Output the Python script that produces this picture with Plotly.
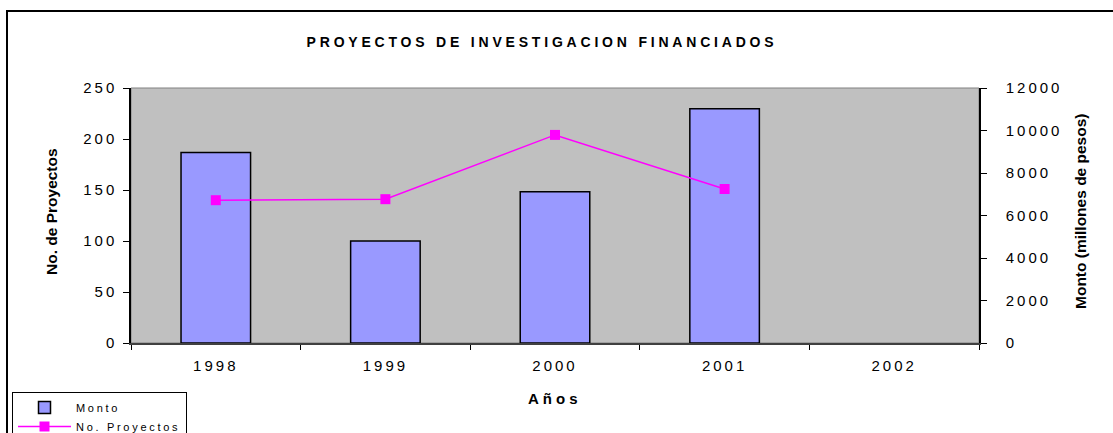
import plotly.graph_objects as go

# ---- data ----
years = ["1998", "1999", "2000", "2001", "2002"]
monto = [8960, 4800, 7120, 11020, None]          # millones de pesos (right axis)
proyectos = [140, 141, 204, 151, None]           # No. de proyectos (left axis)
left_ticks = [0, 50, 100, 150, 200, 250]
right_ticks = [0, 2000, 4000, 6000, 8000, 10000, 12000]

FONT = "Liberation Sans, Arial, sans-serif"


def spaced(s, px):
    return f'<span style="letter-spacing:{px}px">{s}</span>'


# plot area in pixels (for paper-coordinate helpers)
PL, PR, PT, PB = 131, 979, 88, 343
W, H = 1113, 433


def px_x(x):
    return (x - PL) / (PR - PL)


def px_y(y):
    return (PB - y) / (PB - PT)


fig = go.Figure()

fig.add_trace(go.Bar(
    x=years, y=monto, name=spaced("Monto", 2.7), yaxis="y",
    marker=dict(color="#9999FF", line=dict(color="black", width=1.5)),
))
fig.add_trace(go.Scatter(
    x=years, y=proyectos, name=spaced("No. Proyectos", 2.7), yaxis="y2",
    mode="lines+markers",
    line=dict(color="#FF00FF", width=1.5),
    marker=dict(symbol="square", size=10, color="#FF00FF"),
))

fig.update_layout(
    width=W, height=H,
    margin=dict(l=PL, r=W - PR, t=PT, b=H - PB, autoexpand=False),
    paper_bgcolor="white",
    plot_bgcolor="#C0C0C0",
    font=dict(family=FONT, color="black", size=15),
    bargap=0.59,
    showlegend=True,
    legend=dict(
        x=px_x(12), y=px_y(392), xanchor="left", yanchor="top",
        bordercolor="black", borderwidth=1, bgcolor="white",
        font=dict(size=11), traceorder="normal", itemwidth=53,
    ),
    title=dict(
        text="<b>" + spaced("PROYECTOS DE INVESTIGACION FINANCIADOS", 3.8) + "</b>",
        x=542 / W, xref="container", xanchor="center",
        y=1 - 42 / H, yref="container", yanchor="middle",
        font=dict(size=14),
    ),
    xaxis=dict(
        type="category", categoryorder="array", categoryarray=years,
        tickvals=years, ticktext=[spaced(y, 3) for y in years],
        tickson="boundaries", ticks="outside", ticklen=5, tickcolor="black",
        showline=True, linecolor="#404040", linewidth=1.5,
        showgrid=False, zeroline=False, range=[-0.5, 4.5],
        ticklabelstandoff=8,
    ),
    yaxis=dict(
        side="right", range=[0, 12000],
        tickvals=right_ticks, ticktext=[spaced(v, 3) for v in right_ticks],
        ticks="outside", ticklen=6, tickcolor="black",
        showline=True, linecolor="black", linewidth=1.5,
        showgrid=False, zeroline=False, ticklabelstandoff=16,
    ),
    yaxis2=dict(
        side="left", overlaying="y", range=[0, 250],
        tickvals=left_ticks, ticktext=[spaced(v, 3) for v in left_ticks],
        ticks="outside", ticklen=6, tickcolor="black",
        showline=True, linecolor="black", linewidth=1.5,
        showgrid=False, zeroline=False, ticklabelstandoff=3,
    ),
    shapes=[
        # grey plot-area border (top edge visible)
        dict(type="rect", xref="paper", yref="paper", x0=0, x1=1, y0=0, y1=1,
             line=dict(color="#808080", width=1), layer="below"),
        # outer chart border
        dict(type="rect", xref="paper", yref="paper",
             x0=px_x(7), x1=px_x(1116), y0=px_y(441), y1=px_y(11),
             line=dict(color="black", width=2)),
    ],
    annotations=[
        dict(text="<b>No. de Proyectos</b>", xref="paper", yref="paper",
             x=px_x(51), y=px_y(212), textangle=-90, showarrow=False,
             xanchor="center", yanchor="middle", font=dict(size=15.5)),
        dict(text="<b>Monto (millones de pesos)</b>", xref="paper", yref="paper",
             x=px_x(1080), y=px_y(212), textangle=-90, showarrow=False,
             xanchor="center", yanchor="middle", font=dict(size=15.5)),
        dict(text="<b>" + spaced("Años", 4) + "</b>", xref="paper", yref="paper",
             x=px_x(555), y=px_y(398), showarrow=False,
             xanchor="center", yanchor="middle", font=dict(size=15)),
    ],
)

fig.write_html("out.html", config={"displayModeBar": False},
               post_script="document.body.style.margin='0';")
